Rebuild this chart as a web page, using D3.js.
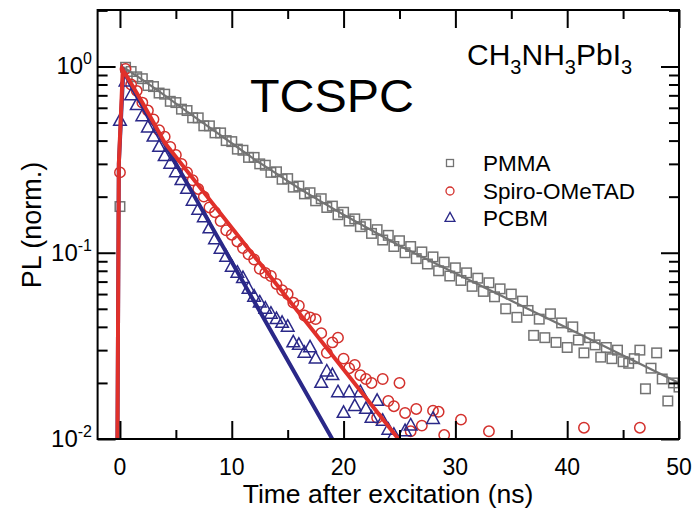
<!DOCTYPE html>
<html>
<head>
<meta charset="utf-8">
<script src="https://cdn.jsdelivr.net/npm/d3@7"></script>
<style>
  html, body { margin: 0; padding: 0; background: #fff; }
  svg text { font-family: "Liberation Sans", Arial, Helvetica, sans-serif; fill: #000; }
</style>
</head>
<body>
<svg id="chart" width="699" height="509"></svg>
<script>
// ---- data ----
const times = [0,0.5,1,1.5,2,2.5,3,3.5,4,4.5,5,5.5,6,6.5,7,7.5,8,8.5,9,9.5,
  10,10.5,11,11.5,12,12.5,13,13.5,14,14.5,15,15.5,16,16.5,17,17.5,18,18.5,19,19.5,
  20,20.5,21,21.5,22,22.5,23,23.5,24,24.5,25,25.5,26,26.5,27,27.5,28,28.5,29,29.5,
  30,30.5,31,31.5,32,32.5,33,33.5,34,34.5,35,35.5,36,36.5,37,37.5,38,38.5,39,39.5,
  40,40.5,41,41.5,42,42.5,43,43.5,44,44.5,45,45.5,46,46.5,47,47.5,48,48.5,49,49.5,50];

const pmma = [0.177,0.99,0.94,0.88,0.86,0.79,0.78,0.72,0.71,0.65,
  0.64,0.59,0.58,0.53,0.53,0.48,0.48,0.44,0.44,0.40,
  0.395,0.36,0.355,0.325,0.325,0.30,0.295,0.27,0.272,0.248,
  0.25,0.225,0.228,0.207,0.21,0.19,0.195,0.175,0.178,0.16,
  0.165,0.148,0.152,0.138,0.142,0.127,0.133,0.117,0.124,0.108,
  0.116,0.100,0.108,0.093,0.101,0.087,0.095,0.080,0.089,0.075,
  0.083,0.071,0.078,0.066,0.073,0.062,0.069,0.058,0.064,0.050,
  0.060,0.045,0.055,0.049,0.036,0.044,0.035,0.047,0.033,0.042,
  0.031,0.040,0.034,0.029,0.035,0.032,0.0275,0.031,0.027,0.030,
  0.026,0.0255,0.027,0.030,0.0186,0.024,0.029,0.021,0.016,0.020,0.019];

const spiro = [0.27,0.97,0.80,0.74,0.64,0.58,0.52,0.455,0.42,0.37,
  0.335,0.30,0.27,0.245,0.22,0.20,0.175,0.165,0.148,0.132,
  0.125,0.115,0.106,0.098,0.092,0.082,0.078,0.075,0.068,0.063,
  0.060,0.054,0.052,0.046,0.045,0.044,0.037,0.029,0.033,0.035,
  0.027,0.024,0.025,0.022,0.021,0.020,0.013,0.021,0.016,0.015,
  0.020,0.0138,0.011,0.0145,0.0118,0.0095,0.0142,0.0140,0.0105,0.0085,
  0.0090,0.0127,0.0080,0.0070,0.0085,0.0075,0.0110,0.0072,0.0065,0.0080,
  0.0060,0.0070,0.0058,0.0066,0.0050,0.0062,0.0055,0.0048,0.0060,0.0052,
  0.0045,0.0058,0.0050,0.0115,0.0047,0.0053,0.0040,0.0050,0.0045,0.0038,
  0.0048,0.0042,0.0036,0.0115,0.0040];

const pcbm = [0.51,0.83,0.70,0.62,0.54,0.47,0.42,0.37,0.33,0.30,
  0.27,0.245,0.22,0.19,0.17,0.155,0.135,0.118,0.105,0.095,
  0.084,0.078,0.073,0.064,0.058,0.054,0.050,0.047,0.044,0.042,
  0.040,0.033,0.032,0.029,0.031,0.027,0.020,0.023,0.022,0.0178,
  0.0138,0.0178,0.0150,0.0178,0.0145,0.0130,0.0160,0.0125,0.0112,0.0105,
  0.0090,0.0110,0.0118,0.0085,0.0095,0.0080,0.0128,0.0088,0.0075,0.0068,0.0062];

// fitted curves
const pmmaFitT = [0.3,2,4,6,8,10,12,14,16,18,20,22.5,25,30,35,40,45,50];
const pmmaFitY = [0.99,0.85,0.70,0.573,0.471,0.387,0.318,0.266,0.222,0.188,0.160,0.132,0.109,0.0776,0.0553,0.0394,0.0281,0.0200];
const spiroFitT = [-0.25,-0.1,0.25,1,2,3,4,25.2];
const spiroFitY = [0.005,0.3,0.96,0.81,0.64,0.50,0.39,0.0095];
const pcbmFitT = [-0.25,-0.1,0.3,1,2,3,19.2];
const pcbmFitY = [0.005,0.3,0.95,0.79,0.62,0.49,0.0095];

const seriesNames = ["PMMA", "Spiro-OMeTAD", "PCBM"];
const xMajorTicks = [0,10,20,30,40,50];
const xMinorTicks = [5,15,25,35,45];
const yMajorTicks = [0.01,0.1,1];
const yMajorExp = ["-2","-1","0"];
const yMinorTicks = [0.02,0.03,0.04,0.05,0.06,0.07,0.08,0.09,0.2,0.3,0.4,0.5,0.6,0.7,0.8,0.9,2];

// ---- drawing ----
const svg = d3.select("#chart");
const L = 97.6, R = 679, T = 10, B = 439;
const x = d3.scaleLinear().domain([-2, 50]).range([L, R]);
const y = d3.scaleLog().domain([0.01, 2.01]).range([B, T]);

const colGray = "#737373", colRed = "#e0302a", colRedMk = "#d3302c", colBlue = "#2a2888";

svg.append("defs").append("clipPath").attr("id", "clip")
  .append("rect").attr("x", L).attr("y", T).attr("width", R - L).attr("height", B - T);

const plot = svg.append("g").attr("clip-path", "url(#clip)");

function pts(vals) { return vals.map((v, i) => ({t: times[i], v})).filter(d => d.v >= 0.0098); }

// markers
const sq = 9.5;
plot.append("g").selectAll("rect").data(pts(pmma)).join("rect")
  .attr("x", d => x(d.t) - sq/2).attr("y", d => y(d.v) - sq/2)
  .attr("width", sq).attr("height", sq)
  .attr("fill", "none").attr("stroke", colGray).attr("stroke-width", 1.5);

plot.append("g").selectAll("circle").data(pts(spiro)).join("circle")
  .attr("cx", d => x(d.t)).attr("cy", d => y(d.v)).attr("r", 5.2)
  .attr("fill", "none").attr("stroke", colRedMk).attr("stroke-width", 1.5);

const triPath = s => `M0,${-s*0.62}L${s*0.55},${s*0.38}L${-s*0.55},${s*0.38}Z`;
plot.append("g").selectAll("path").data(pts(pcbm)).join("path")
  .attr("d", triPath(11.5)).attr("transform", d => `translate(${x(d.t)},${y(d.v)})`)
  .attr("fill", "none").attr("stroke", colBlue).attr("stroke-width", 1.5);

// fit lines
const line = d3.line().x(d => x(d[0])).y(d => y(d[1]));
plot.append("path").attr("d", line(pmmaFitT.map((t, i) => [t, pmmaFitY[i]])))
  .attr("fill", "none").attr("stroke", colGray).attr("stroke-width", 2.2);
plot.append("path").attr("d", line(pcbmFitT.map((t, i) => [t, pcbmFitY[i]])))
  .attr("fill", "none").attr("stroke", colBlue).attr("stroke-width", 4);
plot.append("path").attr("d", line(spiroFitT.map((t, i) => [t, spiroFitY[i]])))
  .attr("fill", "none").attr("stroke", colRed).attr("stroke-width", 4);

// axes (inward ticks)
function styleAxis(g) {
  g.select(".domain").remove();
  g.selectAll("line").attr("stroke", "#000").attr("stroke-width", 2);
  g.selectAll("text").remove();
}
svg.append("g").attr("transform", `translate(0,${B})`)
  .call(d3.axisBottom(x).tickValues(xMajorTicks).tickSize(-18)).call(styleAxis);
svg.append("g").attr("transform", `translate(0,${B})`)
  .call(d3.axisBottom(x).tickValues(xMinorTicks).tickSize(-9)).call(styleAxis);
svg.append("g").attr("transform", `translate(0,${T})`)
  .call(d3.axisTop(x).tickValues(xMajorTicks).tickSize(-18)).call(styleAxis);
svg.append("g").attr("transform", `translate(0,${T})`)
  .call(d3.axisTop(x).tickValues(xMinorTicks).tickSize(-9)).call(styleAxis);
svg.append("g").attr("transform", `translate(${L},0)`)
  .call(d3.axisLeft(y).tickValues(yMajorTicks).tickSize(-18)).call(styleAxis);
svg.append("g").attr("transform", `translate(${L},0)`)
  .call(d3.axisLeft(y).tickValues(yMinorTicks).tickSize(-10)).call(styleAxis);
svg.append("g").attr("transform", `translate(${R},0)`)
  .call(d3.axisRight(y).tickValues(yMajorTicks).tickSize(-18)).call(styleAxis);
svg.append("g").attr("transform", `translate(${R},0)`)
  .call(d3.axisRight(y).tickValues(yMinorTicks).tickSize(-10)).call(styleAxis);

// frame
svg.append("rect").attr("x", L).attr("y", T).attr("width", R - L).attr("height", B - T)
  .attr("fill", "none").attr("stroke", "#000").attr("stroke-width", 2);

// tick labels
svg.append("g").selectAll("text").data(xMajorTicks).join("text")
  .attr("x", d => x(d)).attr("y", 475).attr("text-anchor", "middle")
  .attr("font-size", 23).text(d => d);

const yl = svg.append("g").selectAll("text").data(yMajorTicks).join("text")
  .attr("x", 92).attr("y", d => y(d) + 8).attr("text-anchor", "end").attr("font-size", 24);
yl.append("tspan").text("10");
yl.append("tspan").attr("dy", -10).attr("font-size", 16).text((d, i) => yMajorExp[i]);

// axis titles
svg.append("text").attr("x", 388).attr("y", 503).attr("text-anchor", "middle")
  .attr("font-size", 26.5).text("Time after excitation (ns)");
svg.append("text").attr("transform", "translate(41,225) rotate(-90)")
  .attr("text-anchor", "middle").attr("font-size", 27).text("PL (norm.)");

// annotations
svg.append("text").attr("x", 250).attr("y", 112).attr("font-size", 46)
  .attr("textLength", 164).attr("lengthAdjust", "spacingAndGlyphs").text("TCSPC");

const ch = svg.append("text").attr("x", 467).attr("y", 65).attr("font-size", 30);
ch.append("tspan").text("CH");
ch.append("tspan").attr("dy", 9).attr("font-size", 20).text("3");
ch.append("tspan").attr("dy", -9).text("NH");
ch.append("tspan").attr("dy", 9).attr("font-size", 20).text("3");
ch.append("tspan").attr("dy", -9).text("PbI");
ch.append("tspan").attr("dy", 9).attr("font-size", 20).text("3");

// legend
const legY = [163, 191, 218];
const lg = svg.append("g");
lg.append("rect").attr("x", 450 - 3.5).attr("y", legY[0] - 3.5).attr("width", 7).attr("height", 7)
  .attr("fill", "none").attr("stroke", colGray).attr("stroke-width", 1.3);
lg.append("circle").attr("cx", 450).attr("cy", legY[1]).attr("r", 4)
  .attr("fill", "none").attr("stroke", colRedMk).attr("stroke-width", 1.3);
lg.append("path").attr("d", triPath(9)).attr("transform", `translate(450,${legY[2]})`)
  .attr("fill", "none").attr("stroke", colBlue).attr("stroke-width", 1.3);
lg.selectAll("text").data(seriesNames).join("text")
  .attr("x", 483).attr("y", (d, i) => legY[i] + 7.5).attr("font-size", 22.5).text(d => d);
</script>
</body>
</html>
